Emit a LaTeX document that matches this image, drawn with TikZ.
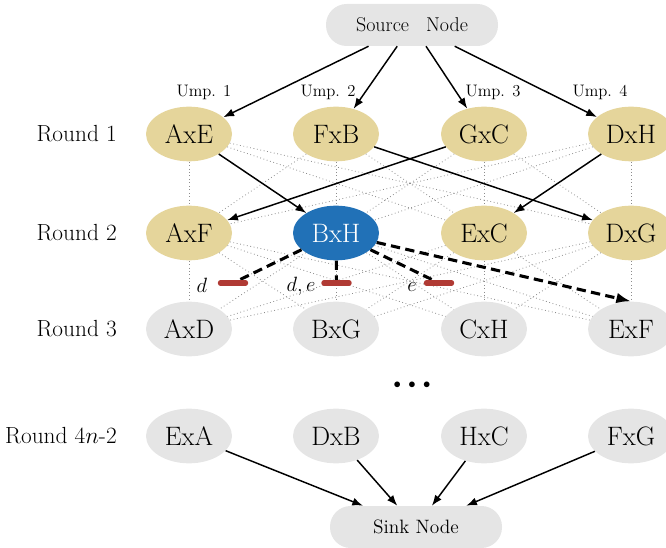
\RequirePackage{fix-cm}
\documentclass[tikz,border=0pt]{standalone}
\usetikzlibrary{arrows.meta,shapes.geometric}
\definecolor{tanc}{RGB}{229,213,155}
\definecolor{bluec}{RGB}{33,113,183}
\definecolor{greyc}{RGB}{229,229,229}
\definecolor{redc}{RGB}{176,58,52}
\tikzset{
 game/.style={ellipse, minimum width=64.5pt, minimum height=41pt, inner sep=0pt, font=\fontsize{20}{22}\selectfont},
 tannode/.style={game, fill=tanc},
 curnode/.style={game, fill=bluec, text=white},
 greynode/.style={game, fill=greyc},
 term/.style={rectangle, rounded corners=15.5pt, fill=greyc, minimum width=129pt, minimum height=31.5pt, inner sep=0pt, font=\fontsize{15}{17}\selectfont},
 roundlbl/.style={anchor=east, inner sep=0pt, font=\fontsize{17.5}{19}\selectfont},
 umplbl/.style={inner sep=0pt, font=\fontsize{12.5}{14}\selectfont},
 mathlbl/.style={inner sep=0pt, font=\fontsize{15.5}{17}\selectfont},
 arr/.style={-{Latex[length=8pt,width=6pt]}, line width=1.1pt},
 pot/.style={dotted, draw=black!45, line width=0.6pt},
 dsh/.style={dash pattern=on 7pt off 4pt, line width=2.3pt},
 dsharr/.style={dsh, -{Latex[length=11pt,width=8pt]}},
 redbar/.style={line width=3.8pt, line cap=round, draw=redc}
}
\begin{document}
\begin{tikzpicture}[x=0.75pt,y=-0.75pt]
\useasboundingbox (0,0) rectangle (666,548);
% terminal nodes
\node[term] (src) at (412,25) {Source\hspace{0.85em}Node};
\node[term, font=\fontsize{14.5}{16}\selectfont] (snk) at (416,527) {Sink Node};
% round labels
\node[roundlbl] (l1) at (117,134) {Round 1};
\node[roundlbl] (l2) at (117,233) {Round 2};
\node[roundlbl] (l3) at (117,329) {Round 3};
\node[roundlbl] (l4) at (117,436) {Round $4n$-2};
% ump labels
\node[umplbl] (u1) at (204,92) {Ump. 1};
\node[umplbl] (u2) at (328,92) {Ump. 2};
\node[umplbl] (u3) at (493,92) {Ump. 3};
\node[umplbl] (u4) at (600,92) {Ump. 4};
% round 1
\node[tannode] (a1) at (189,134) {AxE};
\node[tannode] (a2) at (336,134) {FxB};
\node[tannode] (a3) at (484,134) {GxC};
\node[tannode] (a4) at (631,134) {DxH};
% round 2
\node[tannode] (b1) at (189,233) {AxF};
\node[curnode] (b2) at (336,233) {BxH};
\node[tannode] (b3) at (484,233) {ExC};
\node[tannode] (b4) at (631,233) {DxG};
% round 3
\node[greynode] (c1) at (189,329) {AxD};
\node[greynode] (c2) at (336,329) {BxG};
\node[greynode] (c3) at (484,329) {CxH};
\node[greynode] (c4) at (631,329) {ExF};
% dots
\node[inner sep=0pt, font=\fontsize{11}{13}\selectfont] (dots) at (412,385) {${\bullet}\hspace{5.6pt}{\bullet}\hspace{5.6pt}{\bullet}$};
% round 4n-2
\node[greynode] (e1) at (189,436) {ExA};
\node[greynode] (e2) at (336,436) {DxB};
\node[greynode] (e3) at (484,436) {HxC};
\node[greynode] (e4) at (631,436) {FxG};
% potential (dotted) edges
\foreach \i in {1,2,3,4}{
  \foreach \j in {1,2,3,4}{
    \draw[pot] (a\i) -- (b\j);
    \draw[pot] (b\i) -- (c\j);
  }
}
% source arrows
\foreach \i in {1,2,3,4}{ \draw[arr] (src) -- (a\i); }
% round 1 -> round 2
\draw[arr] (a1) -- (b2);
\draw[arr] (a2) -- (b4);
\draw[arr] (a3) -- (b1);
\draw[arr] (a4) -- (b3);
% sink arrows
\foreach \i in {1,2,3,4}{ \draw[arr] (e\i) -- (snk); }
% blocked moves
\coordinate (bd) at (233,283);
\coordinate (bde) at (336.5,283);
\coordinate (be) at (439,283);
\draw[dsh] (b2) -- (bd);
\draw[dsh] (b2) -- (bde);
\draw[dsh] (b2) -- (be);
\draw[dsharr] (b2) -- (c4.north);
\draw[redbar] ([xshift=-9.5pt]bd) -- ([xshift=9.5pt]bd);
\draw[redbar] ([xshift=-9.5pt]bde) -- ([xshift=9.5pt]bde);
\draw[redbar] ([xshift=-9.5pt]be) -- ([xshift=9.5pt]be);
\node[mathlbl] (ld) at (202,285) {$d$};
\node[mathlbl] (lde) at (301,286) {$d,e$};
\node[mathlbl] (le) at (412,287) {$e$};
\end{tikzpicture}
\end{document}
